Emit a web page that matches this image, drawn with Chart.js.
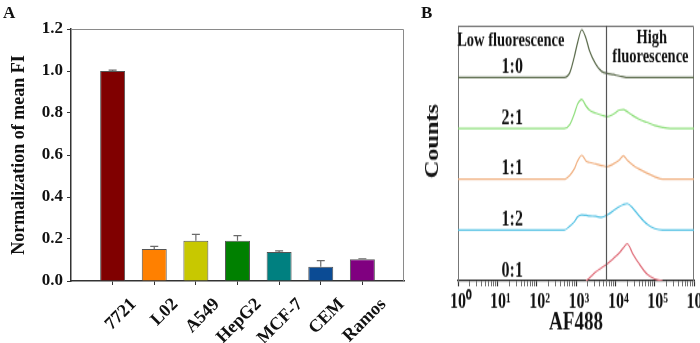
<!DOCTYPE html>
<html>
<head>
<meta charset="utf-8">
<script src="https://cdn.jsdelivr.net/npm/chart.js@4.4.1/dist/chart.umd.min.js"></script>
<style>
  html, body { margin: 0; padding: 0; background: #fff; }
  #wrap { position: relative; width: 700px; height: 343px; overflow: hidden; }
  #chartA { position: absolute; left: 0; top: 0; }
  #chartB { position: absolute; left: 410px; top: 0; }
  .panel { position: absolute; font: bold 17px "Liberation Serif", serif; color: #111; }
</style>
</head>
<body>
<div id="wrap">
  <canvas id="chartA" width="410" height="343"></canvas>
  <canvas id="chartB" width="290" height="254" style="width:290px;height:343px"></canvas>
  <div class="panel" style="left:3px;top:3px">A</div>
  <div class="panel" style="left:421px;top:3px">B</div>
</div>
<script>
// panel A - mean fluorescence per cell line
const cellLines = ['7721', 'L02', 'A549', 'HepG2', 'MCF-7', 'CEM', 'Ramos'];
const meanFI = [1.0, 0.152, 0.192, 0.192, 0.138, 0.068, 0.103];
const meanFIErr = [0.004, 0.013, 0.03, 0.024, 0.005, 0.029, 0.003];
const barColors = ['#800000', '#ff8000', '#c8c800', '#008000', '#008080', '#0b4b94', '#800080'];
const yTicksA = [0, 0.2, 0.4, 0.6, 0.8, 1.0, 1.2];

// panel B - flow histograms (counts in lane units)
const af488 = [1, 500, 700, 900, 1100, 1400, 1800, 2200, 3200, 4500, 6300, 8900, 12600, 16000, 20000, 28000, 40000, 63000, 100000, 160000, 250000, 1000000];
const ratios = ['1:0', '2:1', '1:1', '1:2', '0:1'];
const counts1to0 = [0, 0, 0.10, 0.40, 0.69, 0.94, 0.77, 0.53, 0.26, 0.12, 0.08, 0.06, 0.03, 0.015, 0, 0, 0, 0, 0, 0, 0, 0];
const counts2to1 = [0, 0, 0.08, 0.28, 0.48, 0.57, 0.44, 0.36, 0.30, 0.26, 0.23, 0.28, 0.36, 0.37, 0.33, 0.25, 0.18, 0.12, 0.06, 0.02, 0, 0];
const counts1to1 = [0, 0, 0.08, 0.20, 0.36, 0.47, 0.36, 0.33, 0.30, 0.27, 0.25, 0.30, 0.38, 0.46, 0.38, 0.28, 0.20, 0.12, 0.05, 0, 0, 0];
const counts1to2 = [0, 0, 0.08, 0.16, 0.26, 0.30, 0.29, 0.28, 0.27, 0.25, 0.30, 0.38, 0.46, 0.50, 0.52, 0.43, 0.28, 0.12, 0.03, 0, 0, 0];
const counts0to1 = [null, null, null, null, null, null, 0, 0.06, 0.18, 0.26, 0.34, 0.44, 0.55, 0.65, 0.73, 0.53, 0.34, 0.14, 0.04, 0, null, null];
const traceColors = ['#5b6b4c', '#8fdf7c', '#f0b080', '#55c2e4', '#e0707c'];
const xTickLabelsB = ['10\u2070', '10\u00b9', '10\u00b2', '10\u00b3', '10\u2074', '10\u2075', '10\u2076'];
const gateAF488 = 5800;

const serif = 'Liberation Serif';
const bold = (size) => ({ family: serif, size: size, weight: 'bold' });

// top/right frame of panel A
const frameA = {
    id: 'frameA',
    beforeDatasetsDraw(chart) {
        const { ctx, chartArea: a } = chart;
        ctx.save();
        ctx.strokeStyle = '#8a8a8a';
        ctx.lineWidth = 1;
        ctx.beginPath();
        ctx.moveTo(a.left, a.top + 0.5);
        ctx.lineTo(a.right - 0.5, a.top + 0.5);
        ctx.lineTo(a.right - 0.5, a.bottom);
        ctx.stroke();
        ctx.restore();
    }
};

const errorBars = {
    id: 'errorBars',
    afterDatasetsDraw(chart) {
        const { ctx, scales: { y } } = chart;
        const meta = chart.getDatasetMeta(0);
        ctx.save();
        ctx.strokeStyle = '#6a6a6a';
        ctx.lineWidth = 1.2;
        cellLines.forEach((name, i) => {
            const bar = meta.data[i + 1];
            const top = y.getPixelForValue(meanFI[i]);
            const hi = y.getPixelForValue(meanFI[i] + meanFIErr[i]);
            ctx.beginPath();
            ctx.moveTo(bar.x, top);
            ctx.lineTo(bar.x, hi);
            ctx.moveTo(bar.x - 4, hi);
            ctx.lineTo(bar.x + 4, hi);
            ctx.stroke();
        });
        ctx.restore();
    }
};

new Chart(document.getElementById('chartA'), {
    type: 'bar',
    data: {
        labels: ['', ...cellLines, ''],
        datasets: [{
            data: [null, ...meanFI, null],
            backgroundColor: ['rgba(0,0,0,0)', ...barColors, 'rgba(0,0,0,0)'],
            borderColor: '#555',
            borderWidth: 1,
            barPercentage: 0.6,
            categoryPercentage: 1
        }]
    },
    options: {
        responsive: false,
        animation: false,
        events: [],
        layout: { padding: { top: 29, right: 6, left: 0, bottom: 0 } },
        plugins: { legend: { display: false }, tooltip: { enabled: false } },
        scales: {
            x: {
                offset: false,
                grid: {
                    offset: false,
                    drawOnChartArea: false,
                    tickLength: 4,
                    tickColor: c => (c.index === 0 || c.index === 8) ? 'rgba(0,0,0,0)' : '#333'
                },
                border: { color: '#333', width: 1.5 },
                ticks: {
                    autoSkip: false,
                    minRotation: 45,
                    maxRotation: 45,
                    labelOffset: 21,
                    padding: 9,
                    color: '#111',
                    font: bold(18)
                },
                afterFit: s => { s.height = 62; s.paddingLeft = 0; s.paddingRight = 0; }
            },
            y: {
                min: 0,
                max: 1.2,
                afterBuildTicks: s => { s.ticks = yTicksA.map(v => ({ value: v })); },
                ticks: {
                    padding: 4,
                    color: '#111',
                    font: bold(17),
                    callback: v => v.toFixed(1)
                },
                grid: { drawOnChartArea: false, tickLength: 4, tickColor: '#333' },
                border: { color: '#333', width: 1.5 },
                title: {
                    display: true,
                    text: 'Normalization of mean FI',
                    color: '#111',
                    font: bold(18),
                    padding: { top: 9, bottom: 0 }
                },
                afterFit: s => { s.width = 71; }
            }
        }
    },
    plugins: [frameA, errorBars]
});

// panel B
const countsB = [counts1to0, counts2to1, counts1to1, counts1to2, counts0to1];

const frameB = {
    id: 'frameB',
    beforeDatasetsDraw(chart) {
        const { ctx, chartArea: a } = chart;
        ctx.save();
        ctx.strokeStyle = '#777';
        ctx.lineWidth = 1;
        ctx.beginPath();
        ctx.moveTo(a.left, a.top + 0.5);
        ctx.lineTo(a.right - 0.5, a.top + 0.5);
        ctx.lineTo(a.right - 0.5, a.bottom);
        ctx.stroke();
        ctx.restore();
    }
};

const gateAndLabels = {
    id: 'gateAndLabels',
    afterDatasetsDraw(chart) {
        const { ctx, chartArea: a, scales: { x, y } } = chart;
        ctx.save();
        const gx = Math.round(x.getPixelForValue(gateAF488)) + 0.5;
        ctx.strokeStyle = '#555';
        ctx.lineWidth = 1.2;
        ctx.beginPath();
        ctx.moveTo(gx, a.top);
        ctx.lineTo(gx, a.bottom);
        ctx.stroke();

        ctx.fillStyle = '#111';
        ctx.font = 'bold 16px "Liberation Serif"';
        ctx.textAlign = 'center';
        ctx.textBaseline = 'middle';
        ratios.forEach((r, i) => {
            ctx.fillText(r, x.getPixelForValue(24), y.getPixelForValue(4 - i + 0.2));
        });
        ctx.font = 'bold 14.5px "Liberation Serif"';
        ctx.fillText('Low fluorescence', x.getPixelForValue(22), y.getPixelForValue(4.73));
        ctx.fillText('High', x.getPixelForValue(84000), y.getPixelForValue(4.77));
        ctx.fillText('fluorescence', x.getPixelForValue(78000), y.getPixelForValue(4.41));

        // y title, placed a little above the plot centre as in the figure
        ctx.font = 'bold 18px "Liberation Serif"';
        ctx.translate(a.left - 25, y.getPixelForValue(2.75));
        ctx.rotate(-Math.PI / 2);
        ctx.fillText('Counts', 0, 0);
        ctx.restore();
    }
};

new Chart(document.getElementById('chartB'), {
    type: 'line',
    data: {
        datasets: countsB.map((c, i) => ({
            label: ratios[i],
            data: af488.map((v, j) => ({ x: v, y: c[j] === null ? null : c[j] + (4 - i) })),
            borderColor: traceColors[i],
            borderWidth: 1.2,
            pointRadius: 0,
            cubicInterpolationMode: 'monotone',
            fill: false
        }))
    },
    options: {
        responsive: false,
        animation: false,
        events: [],
        layout: { padding: { top: 19, right: 6, left: 0, bottom: 0 } },
        plugins: { legend: { display: false }, tooltip: { enabled: false } },
        scales: {
            x: {
                type: 'logarithmic',
                min: 1,
                max: 1e6,
                afterBuildTicks: s => {
                    const t = [];
                    for (let e = 0; e <= 6; e++) {
                        for (let k = 1; k <= 9; k++) {
                            const v = k * Math.pow(10, e);
                            if (v <= 1e6) t.push({ value: v, major: k === 1 });
                        }
                    }
                    s.ticks = t;
                },
                ticks: {
                    autoSkip: false,
                    minRotation: 0,
                    maxRotation: 0,
                    padding: 2,
                    labelOffset: 3,
                    color: '#111',
                    font: bold(16),
                    callback: v => {
                        const e = Math.round(Math.log10(v));
                        return Math.pow(10, e) === v ? xTickLabelsB[e] : '';
                    }
                },
                grid: {
                    drawOnChartArea: false,
                    tickLength: 4,
                    tickColor: '#333',
                    tickWidth: c => (c.tick && c.tick.major) ? 1.2 : 0.7
                },
                border: { color: '#222', width: 1.3 },
                title: {
                    display: true,
                    text: 'AF488',
                    color: '#111',
                    font: bold(19),
                    padding: { top: 0, bottom: 4 }
                },
                afterFit: s => { s.height = 46; s.paddingLeft = 0; s.paddingRight = 0; }
            },
            y: {
                min: 0,
                max: 5.02,
                ticks: { display: false },
                grid: { display: false },
                border: { color: '#777', width: 1 },
                afterFit: s => { s.width = 48; }
            }
        }
    },
    plugins: [frameB, gateAndLabels]
});
</script>
</body>
</html>
